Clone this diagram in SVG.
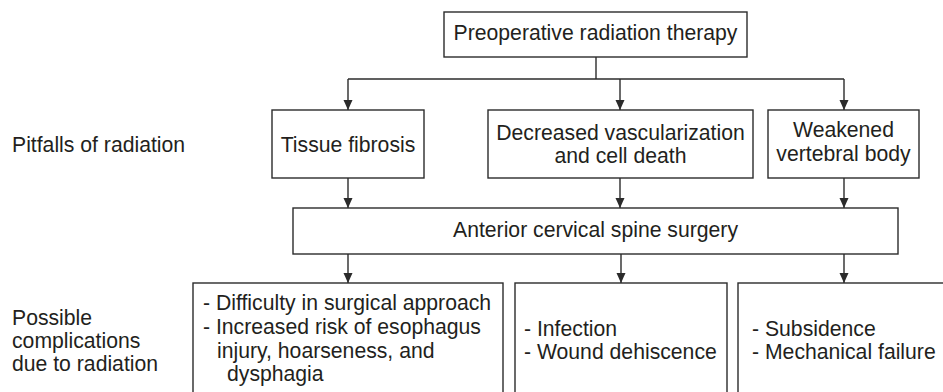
<svg xmlns="http://www.w3.org/2000/svg" width="943" height="392" viewBox="0 0 943 392">
<style>
  .box { fill: #ffffff; stroke: #2b2b2b; stroke-width: 1.4; }
  .ln { fill: none; stroke: #2b2b2b; stroke-width: 1.4; }
  text { font-family: "Liberation Sans", Arial, sans-serif; font-size: 21.2px; fill: #231f20; }
  .c { text-anchor: middle; }
</style>
<defs>
  <marker id="arr" markerWidth="10" markerHeight="11" refX="10" refY="5" orient="auto" markerUnits="userSpaceOnUse" viewBox="0 0 10 10">
    <path d="M0,0.5 L10,5 L0,9.5 Z" fill="#2b2b2b"/>
  </marker>
</defs>

<g id="labels">
  <text x="12" y="152">Pitfalls of radiation</text>
  <text x="12" y="325">Possible</text>
  <text x="12" y="348">complications</text>
  <text x="12" y="371">due to radiation</text>
</g>

<g id="connectors">
  <line class="ln" x1="596" y1="57" x2="596" y2="79"/>
  <line class="ln" x1="348" y1="79" x2="844" y2="79"/>
  <line class="ln" x1="348" y1="79" x2="348" y2="110" marker-end="url(#arr)"/>
  <line class="ln" x1="620" y1="79" x2="620" y2="110" marker-end="url(#arr)"/>
  <line class="ln" x1="844" y1="79" x2="844" y2="110" marker-end="url(#arr)"/>
  <line class="ln" x1="348" y1="178" x2="348" y2="208" marker-end="url(#arr)"/>
  <line class="ln" x1="620" y1="178" x2="620" y2="208" marker-end="url(#arr)"/>
  <line class="ln" x1="844" y1="178" x2="844" y2="208" marker-end="url(#arr)"/>
  <line class="ln" x1="348" y1="254" x2="348" y2="283" marker-end="url(#arr)"/>
  <line class="ln" x1="621" y1="254" x2="621" y2="283" marker-end="url(#arr)"/>
  <line class="ln" x1="844" y1="254" x2="844" y2="283" marker-end="url(#arr)"/>
</g>

<g id="n-top">
  <rect class="box" x="444" y="12" width="303" height="45"/>
  <text class="c" x="595.5" y="40">Preoperative radiation therapy</text>
</g>

<g id="n-fibrosis">
  <rect class="box" x="272" y="110" width="152" height="68"/>
  <text class="c" x="348" y="152">Tissue fibrosis</text>
</g>

<g id="n-vascular">
  <rect class="box" x="488" y="110" width="265" height="68"/>
  <text class="c" x="620.5" y="140">Decreased vascularization</text>
  <text class="c" x="620.5" y="163">and cell death</text>
</g>

<g id="n-vertebral">
  <rect class="box" x="768" y="110" width="151" height="68"/>
  <text class="c" x="843.5" y="137">Weakened</text>
  <text class="c" x="843.5" y="161">vertebral body</text>
</g>

<g id="n-surgery">
  <rect class="box" x="293" y="208" width="605" height="46"/>
  <text class="c" x="595.5" y="237">Anterior cervical spine surgery</text>
</g>

<g id="n-comp1">
  <rect class="box" x="193" y="283" width="310" height="130"/>
  <text x="203" y="310">- Difficulty in surgical approach</text>
  <text x="203" y="334">- Increased risk of esophagus</text>
  <text x="217" y="358">injury, hoarseness, and</text>
  <text x="227" y="381">dysphagia</text>
</g>

<g id="n-comp2">
  <rect class="box" x="515" y="283" width="212" height="130"/>
  <text x="524" y="336">- Infection</text>
  <text x="524" y="359">- Wound dehiscence</text>
</g>

<g id="n-comp3">
  <rect class="box" x="738" y="283" width="220" height="130"/>
  <text x="752" y="336">- Subsidence</text>
  <text x="752" y="359">- Mechanical failure</text>
</g>
</svg>
